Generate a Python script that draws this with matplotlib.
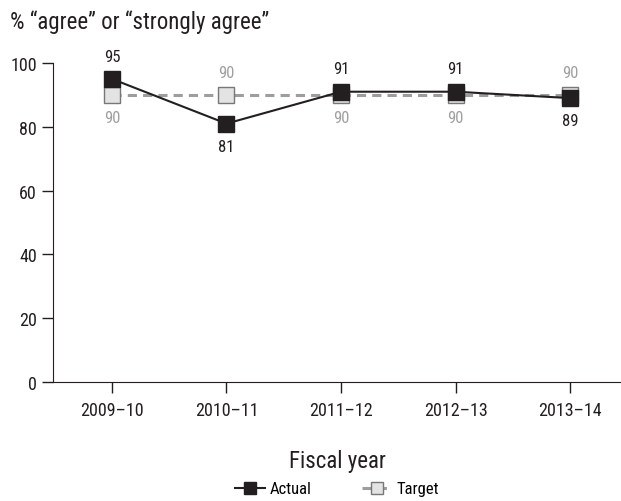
import matplotlib.pyplot as plt

years = ['2009–10', '2010–11', '2011–12', '2012–13', '2013–14']
actual = [95, 81, 91, 91, 89]
target = [90, 90, 90, 90, 90]
actual_label_above = [True, False, True, True, False]
target_label_above = [False, True, False, False, True]

plt.rcParams['font.family'] = ['Liberation Sans Narrow', 'Roboto Condensed',
                               'DejaVu Sans']
plt.rcParams['font.stretch'] = 'condensed'

fig = plt.figure(figsize=(6.21, 5.02), dpi=100)
ax = fig.add_axes([53 / 621, 119 / 502, 568 / 621, 319 / 502])

x = list(range(len(years)))
ax.plot(x, target, color='#9d9d9d', linewidth=2.2, linestyle=(0, (3, 2)),
        marker='s', markersize=12, markerfacecolor='#e3e3e3',
        markeredgecolor='#777777', markeredgewidth=1, label='Target', zorder=2)
ax.plot(x, actual, color='#231f20', linewidth=1.5,
        marker='s', markersize=12, markerfacecolor='#231f20',
        markeredgecolor='#231f20', label='Actual', zorder=3)

for i in x:
    off = 11 if actual_label_above[i] else -11
    ax.annotate(str(actual[i]), (i, actual[i]), xytext=(0, off),
                textcoords='offset points', ha='center',
                va='bottom' if off > 0 else 'top', fontsize=12, color='#231f20')
    off = 11 if target_label_above[i] else -11
    ax.annotate(str(target[i]), (i, target[i]), xytext=(0, off),
                textcoords='offset points', ha='center',
                va='bottom' if off > 0 else 'top', fontsize=12, color='#a0a0a0')

ax.set_xlim(-0.515, 4.445)
ax.set_ylim(0, 100)
ax.set_yticks([0, 20, 40, 60, 80, 100])
ax.set_xticks(x)
ax.set_xticklabels(years)
ax.tick_params(axis='both', labelsize=13, length=8, width=1, color='#231f20',
               labelcolor='#231f20')
ax.tick_params(axis='x', pad=6)
for s in ['top', 'right']:
    ax.spines[s].set_visible(False)
for s in ['left', 'bottom']:
    ax.spines[s].set_color('#231f20')

fig.text(10 / 621, 1 - 22 / 502, '% “agree” or “strongly agree”',
         fontsize=16.5, va='center', ha='left', color='#231f20')
fig.text(337 / 621, 1 - 462 / 502, 'Fiscal year', fontsize=16.5,
         va='center', ha='center', color='#231f20')

handles, labels = ax.get_legend_handles_labels()
fig.legend(handles[::-1], labels[::-1], loc='center', ncol=2,
           bbox_to_anchor=(337 / 621, 1 - 490 / 502), frameon=False,
           fontsize=12, handlelength=1.8, handletextpad=0.3,
           columnspacing=3, markerscale=0.75)

fig.savefig('out.png', dpi=100)
